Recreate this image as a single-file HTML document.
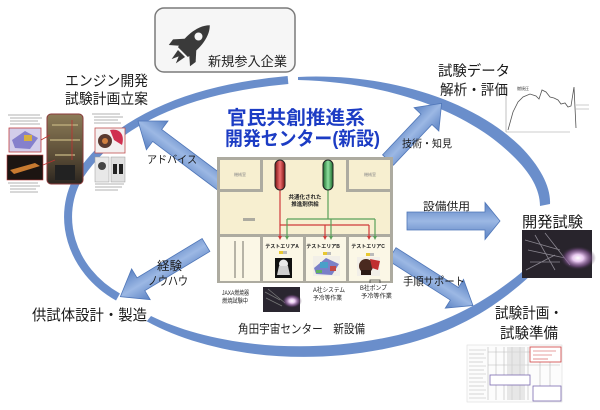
<!DOCTYPE html>
<html><head><meta charset="utf-8">
<style>
html,body{margin:0;padding:0;background:#fff;}
svg{display:block;}
text{font-family:"Liberation Sans","Noto Sans CJK JP",sans-serif;}
</style></head><body>
<svg width="600" height="410" viewBox="0 0 600 410" xmlns="http://www.w3.org/2000/svg">
<defs>
<linearGradient id="ag" x1="0" y1="0" x2="0" y2="1">
 <stop offset="0" stop-color="#5b82c3"/><stop offset="0.5" stop-color="#9cb8e4"/><stop offset="1" stop-color="#5b82c3"/>
</linearGradient>
<linearGradient id="eng" x1="0" y1="0" x2="0" y2="1">
 <stop offset="0" stop-color="#8c7c58"/><stop offset="0.6" stop-color="#5a4c36"/><stop offset="1" stop-color="#2c2620"/>
</linearGradient>
<radialGradient id="glow" cx="0.5" cy="0.5" r="0.5">
 <stop offset="0" stop-color="#ffffff"/><stop offset="0.3" stop-color="#e8c8f0"/><stop offset="0.7" stop-color="#8a5a9a" stop-opacity="0.6"/><stop offset="1" stop-color="#2a2230" stop-opacity="0"/>
</radialGradient>
<linearGradient id="rb" x1="0" y1="0" x2="1" y2="0">
 <stop offset="0" stop-color="#7a1010"/><stop offset="0.5" stop-color="#f07070"/><stop offset="1" stop-color="#7a1010"/>
</linearGradient>
<linearGradient id="gb" x1="0" y1="0" x2="1" y2="0">
 <stop offset="0" stop-color="#1a6a2a"/><stop offset="0.5" stop-color="#90e0a0"/><stop offset="1" stop-color="#1a6a2a"/>
</linearGradient>
</defs>

<!-- Graph (behind labels) -->
<rect x="500" y="80" width="90" height="58" fill="#fff"/>
<line x1="506" y1="86" x2="506" y2="132" stroke="#999" stroke-width="0.6"/>
<line x1="506" y1="132" x2="570" y2="132" stroke="#999" stroke-width="0.6"/>
<polyline points="508,130 513,112 518,102 523,97 530,94 536,96 539,99 542,90 546,92 550,97 554,98 558,100 561,104 565,103 568,107 571,106 574,87 576,128" fill="none" stroke="#555" stroke-width="0.8"/>
<text x="517" y="90" font-size="4" fill="#333">燃焼圧</text>
<g stroke="#aaa" stroke-width="0.6"><line x1="576" y1="105" x2="589" y2="105"/><line x1="576" y1="109" x2="589" y2="109"/></g>

<!-- Rocket box -->
<rect x="155" y="8" width="140" height="64" rx="9" fill="#f6f6f6" stroke="#7a7a7a" stroke-width="1.5"/>
<g transform="translate(190,45) rotate(45)" fill="#3a3a3a">
 <path d="M0,-28 C10,-18 9,0 7,10 L-7,10 C-9,0 -10,-18 0,-28 Z"/>
 <circle cx="0" cy="-12" r="4" fill="#f6f6f6"/>
 <path d="M-7,-2 L-16,8 L-15,15 L-7,8 Z"/>
 <path d="M7,-2 L16,8 L15,15 L7,8 Z"/>
 <path d="M-5,12 L-3,23 L0,16 L3,23 L5,12 Z"/>
</g>
<text x="208" y="66" font-size="13" textLength="79" lengthAdjust="spacingAndGlyphs" fill="#222">新規参入企業</text>

<!-- Ring arcs -->
<path d="M288,80 C200,88 120,115 80,175 C55,215 70,270 118,297" fill="none" stroke="#6a8ecb" stroke-width="8"/>
<path d="M298,77 C380,73 468,96 520,146 C541,167 551,188 550,204 L540,206 C540,190 531,173 512,155 C463,107 380,82 298,80 Z" fill="#6a8ecb"/>
<path d="M141,318 C200,353 300,370 402,345 C455,332 495,308 530,276 L522,272 C488,300 450,322 398,335 C300,358 205,343 151,316 L147,321 Z" fill="#6a8ecb"/>

<!-- Block arrows -->
<g fill="url(#ag)" stroke="#4f76b8" stroke-width="0.8">
 <g transform="translate(222,184) rotate(216.87)"><path d="M0,-7.5 L81,-7.5 L81,-18 L105,0 L81,18 L81,7.5 L0,7.5 Z"/></g>
 <g transform="translate(388,160) rotate(-46.6)"><path d="M0,-7.5 L56,-7.5 L56,-17 L78,0 L56,17 L56,7.5 L0,7.5 Z"/></g>
 <g transform="translate(206,245) rotate(148.9)"><path d="M0,-7.5 L76,-7.5 L76,-18 L100,0 L76,18 L76,7.5 L0,7.5 Z"/></g>
 <g transform="translate(392,254) rotate(32.5)"><path d="M0,-7.5 L74,-7.5 L74,-17 L96,0 L74,17 L74,7.5 L0,7.5 Z"/></g>
 <g transform="translate(407,221)"><path d="M0,-9 L78,-9 L78,-18.5 L93,0 L78,18.5 L78,9 L0,9 Z"/></g>
</g>

<!-- Floor plan -->
<rect x="217" y="157" width="176" height="126" fill="#adaba0"/>
<g fill="#f7efd0">
 <rect x="220" y="160" width="40" height="29"/>
 <rect x="263" y="160" width="83" height="74"/>
 <rect x="349" y="160" width="41" height="29"/>
 <rect x="220" y="192" width="170" height="42"/>
</g>
<rect x="243" y="218" width="12" height="3" fill="#adaba0"/>
<g fill="#fbf7e6">
 <rect x="220" y="237" width="40" height="44"/>
 <rect x="263" y="237" width="40" height="44"/>
 <rect x="306" y="237" width="40" height="44"/>
 <rect x="349" y="237" width="41" height="44"/>
</g>
<line x1="235" y1="241" x2="235" y2="278" stroke="#a09e92" stroke-width="1.5"/>
<line x1="243" y1="241" x2="243" y2="278" stroke="#a09e92" stroke-width="1.5"/>
<text x="240" y="176" font-size="4" fill="#888" text-anchor="middle">機械室</text>
<text x="370" y="176" font-size="4" fill="#888" text-anchor="middle">機械室</text>
<g fill="none" stroke="#d03a3a" stroke-width="1.2">
 <path d="M280,190 L280,237 M280,225 L369,225 M325,225 L325,237 M369,225 L369,237"/>
</g>
<g fill="none" stroke="#5aa05a" stroke-width="1.2">
 <path d="M328,190 L328,219 M287,219 L375,219 M287,219 L287,237 M331,219 L331,237 M375,219 L375,237"/>
</g>
<g fill="#d03a3a"><path d="M278,236 L282,236 L280,240Z"/><path d="M323,236 L327,236 L325,240Z"/><path d="M367,236 L371,236 L369,240Z"/></g>
<g fill="#5aa05a"><path d="M285,236 L289,236 L287,240Z"/><path d="M329,236 L333,236 L331,240Z"/><path d="M373,236 L377,236 L375,240Z"/></g>
<rect x="275" y="160" width="10" height="30" rx="5" fill="url(#rb)" stroke="#222" stroke-width="1"/>
<rect x="323" y="160" width="10" height="30" rx="5" fill="url(#gb)" stroke="#222" stroke-width="1"/>
<text x="305" y="199" font-size="5.5" fill="#222" text-anchor="middle" font-weight="bold">共通化された</text>
<text x="305" y="206" font-size="5.5" fill="#222" text-anchor="middle" font-weight="bold">推進剤供給</text>
<g font-size="5" fill="#222" font-weight="bold" text-anchor="middle">
 <text x="282" y="248">テストエリアA</text>
 <text x="323" y="248">テストエリアB</text>
 <text x="368" y="248">テストエリアC</text>
</g>
<g>
 <rect x="279" y="251" width="4" height="3" fill="#e8c830"/><rect x="283" y="251" width="4" height="3" fill="#bbb"/>
 <rect x="323" y="252" width="4" height="3" fill="#e8c830"/><rect x="327" y="252" width="4" height="3" fill="#bbb"/>
 <rect x="366" y="253" width="4" height="3" fill="#e8c830"/><rect x="370" y="253" width="4" height="3" fill="#bbb"/>
</g>
<rect x="275" y="258" width="17" height="20" fill="#111"/>
<circle cx="283.5" cy="264" r="4.5" fill="#e8e8e8"/>
<path d="M279,266 L288,266 L290,275 L277,275 Z" fill="#d0d0d0"/>
<g>
 <rect x="313" y="256" width="27" height="20" fill="#f2efe8"/>
 <path d="M314,268 L326,258 L339,264 L332,275 L316,274 Z" fill="#7a80c8"/>
 <rect x="320" y="262" width="8" height="6" fill="#4aa0c8"/>
 <rect x="330" y="266" width="6" height="5" fill="#c04848"/>
 <rect x="316" y="270" width="6" height="3" fill="#60b060"/>
</g>
<g>
 <rect x="357" y="257" width="23" height="19" fill="#f2efe8"/>
 <circle cx="366" cy="266" r="7" fill="#4a2a20"/>
 <path d="M370,259 L380,261 L378,270 L372,268 Z" fill="#c03030"/>
 <rect x="361" y="270" width="10" height="5" fill="#2a1a14"/>
</g>
<path d="M370,283 L370,280 L380,280 L380,283" fill="none" stroke="#444" stroke-width="0.8"/>
<rect x="263" y="287" width="37" height="25" fill="#2a2630"/>
<path d="M265,292 L280,300 M268,289 L285,303 M266,298 L282,306" stroke="#777" stroke-width="0.8"/>
<ellipse cx="292" cy="301" rx="10" ry="7" fill="url(#glow)"/>
<g font-size="6" fill="#222">
 <text x="222" y="295" textLength="27" lengthAdjust="spacingAndGlyphs">JAXA燃焼器</text>
 <text x="222" y="303" textLength="26" lengthAdjust="spacingAndGlyphs">燃焼試験中</text>
 <text x="313" y="292" textLength="32" lengthAdjust="spacingAndGlyphs">A社システム</text>
 <text x="313" y="300" textLength="29" lengthAdjust="spacingAndGlyphs">予冷等作業</text>
 <text x="360" y="290" textLength="27" lengthAdjust="spacingAndGlyphs">B社ポンプ</text>
 <text x="361" y="298" textLength="31" lengthAdjust="spacingAndGlyphs">予冷等作業</text>
</g>
<text x="238" y="333" font-size="12" textLength="127" lengthAdjust="spacingAndGlyphs" fill="#222">角田宇宙センター　新設備</text>

<!-- Title -->
<text x="227" y="124" font-size="19" font-weight="bold" fill="#1c3cc4" textLength="138" lengthAdjust="spacingAndGlyphs">官民共創推進系</text>
<text x="225" y="145" font-size="19" font-weight="bold" fill="#1c3cc4" textLength="155" lengthAdjust="spacingAndGlyphs">開発センター(新設)</text>

<!-- Labels -->
<g fill="#1a1a1a">
 <text x="65" y="86" font-size="14.5" textLength="83" lengthAdjust="spacingAndGlyphs">エンジン開発</text>
 <text x="65" y="104" font-size="14.5" textLength="83" lengthAdjust="spacingAndGlyphs">試験計画立案</text>
 <text x="438" y="76" font-size="14.5" textLength="72" lengthAdjust="spacingAndGlyphs">試験データ</text>
 <text x="440" y="95" font-size="14.5" textLength="68" lengthAdjust="spacingAndGlyphs">解析・評価</text>
 <text x="522" y="227" font-size="15" textLength="61" lengthAdjust="spacingAndGlyphs">開発試験</text>
 <text x="495" y="318" font-size="15" textLength="68" lengthAdjust="spacingAndGlyphs">試験計画・</text>
 <text x="500" y="338" font-size="15" textLength="58" lengthAdjust="spacingAndGlyphs">試験準備</text>
 <text x="32" y="320" font-size="15" textLength="115" lengthAdjust="spacingAndGlyphs">供試体設計・製造</text>
 <text x="147" y="163" font-size="10.5" textLength="50" lengthAdjust="spacingAndGlyphs">アドバイス</text>
 <text x="402" y="147" font-size="10.5" textLength="50" lengthAdjust="spacingAndGlyphs">技術・知見</text>
 <text x="423" y="210" font-size="11" textLength="47" lengthAdjust="spacingAndGlyphs">設備供用</text>
 <text x="157" y="270" font-size="12" textLength="25" lengthAdjust="spacingAndGlyphs">経験</text>
 <text x="148" y="285" font-size="12" textLength="40" lengthAdjust="spacingAndGlyphs">ノウハウ</text>
 <text x="403" y="285" font-size="11" textLength="62" lengthAdjust="spacingAndGlyphs">手順サポート</text>
</g>

<!-- Left composite images -->
<g stroke="#999" stroke-width="0.8">
 <line x1="8" y1="115" x2="40" y2="115"/><line x1="10" y1="118" x2="42" y2="118"/>
 <line x1="10" y1="121" x2="38" y2="121"/><line x1="10" y1="124" x2="40" y2="124"/>
 <line x1="8" y1="183" x2="38" y2="183"/><line x1="10" y1="186" x2="40" y2="186"/>
 <line x1="10" y1="189" x2="36" y2="189"/><line x1="10" y1="192" x2="38" y2="192"/>
 <line x1="92" y1="114" x2="120" y2="114"/><line x1="94" y1="117" x2="123" y2="117"/>
 <line x1="94" y1="120" x2="118" y2="120"/><line x1="94" y1="123" x2="121" y2="123"/>
 <line x1="95" y1="184" x2="124" y2="184"/><line x1="95" y1="187" x2="122" y2="187"/>
 <line x1="95" y1="190" x2="118" y2="190"/>
</g>
<rect x="9" y="128" width="32" height="24" fill="#d2cdea" stroke="#c04040" stroke-width="0.8"/>
<path d="M12,140 L25,131 L38,138 L30,149 L15,148Z" fill="#8580cc"/>
<rect x="24" y="135" width="8" height="6" fill="#d8b040"/>
<rect x="7" y="155" width="36" height="25" fill="#1c1512" stroke="#c04040" stroke-width="0.6"/>
<path d="M10,170 L35,163 L40,166 L14,174Z" fill="#c87a30"/>
<rect x="47" y="114" width="36" height="70" rx="4" fill="url(#eng)" stroke="#8b3a3a" stroke-width="1"/>
<path d="M52,125 L78,125 M50,140 L80,140 M55,155 L75,155" stroke="#b8a878" stroke-width="1.5"/>
<rect x="55" y="165" width="20" height="15" fill="#222"/>
<line x1="72" y1="120" x2="72" y2="160" stroke="#c03030" stroke-width="0.8"/>
<line x1="41" y1="140" x2="50" y2="135" stroke="#c03030" stroke-width="0.8"/>
<line x1="43" y1="165" x2="55" y2="160" stroke="#c03030" stroke-width="0.8"/>
<rect x="95" y="128" width="30" height="25" fill="#f4f0f0" stroke="#c05050" stroke-width="0.8"/>
<path d="M110,130 C120,128 125,135 122,145 L114,140 Z" fill="#d03050"/>
<circle cx="105" cy="141" r="7" fill="#5a3a30"/>
<circle cx="105" cy="141" r="3" fill="#d08040"/>
<rect x="95" y="157" width="14" height="25" fill="#e8e8e8" stroke="#999" stroke-width="0.5"/>
<circle cx="102" cy="166" r="4" fill="#444"/>
<rect x="111" y="157" width="14" height="25" fill="#e0e0e0" stroke="#999" stroke-width="0.5"/>
<rect x="113" y="164" width="4" height="10" fill="#222"/><rect x="119" y="164" width="4" height="10" fill="#222"/>

<!-- Dev test photo -->
<rect x="522" y="230" width="70" height="48" fill="#28242c"/>
<g stroke="#8a8690" stroke-width="0.8" fill="none">
 <path d="M525,240 L560,250 M528,250 L565,258 M530,262 L560,262 M535,235 L555,270 M545,233 L570,265 M526,270 L555,255"/>
</g>
<ellipse cx="578" cy="258" rx="18" ry="12" fill="url(#glow)"/>

<!-- Document -->
<rect x="467" y="345" width="95" height="57" fill="#fcfcfc" stroke="#ddd" stroke-width="0.6"/>
<g stroke="#b8b8b8" stroke-width="0.6">
 <line x1="469" y1="350" x2="486" y2="350"/><line x1="469" y1="354" x2="484" y2="354"/>
 <line x1="469" y1="358" x2="486" y2="358"/><line x1="469" y1="362" x2="483" y2="362"/>
 <line x1="469" y1="366" x2="486" y2="366"/><line x1="469" y1="370" x2="484" y2="370"/>
 <line x1="469" y1="374" x2="486" y2="374"/><line x1="469" y1="378" x2="483" y2="378"/>
 <line x1="469" y1="382" x2="486" y2="382"/><line x1="469" y1="386" x2="484" y2="386"/>
 <line x1="469" y1="390" x2="486" y2="390"/><line x1="469" y1="394" x2="484" y2="394"/>
 <line x1="469" y1="398" x2="486" y2="398"/>
 <line x1="488" y1="347" x2="488" y2="400"/><line x1="496" y1="347" x2="496" y2="400"/>
 <line x1="504" y1="347" x2="504" y2="400"/><line x1="512" y1="347" x2="512" y2="400"/>
 <line x1="520" y1="347" x2="520" y2="400"/><line x1="528" y1="347" x2="528" y2="400"/>
 <line x1="540" y1="362" x2="540" y2="400"/><line x1="550" y1="362" x2="550" y2="400"/>
 <line x1="488" y1="352" x2="560" y2="352"/><line x1="488" y1="365" x2="560" y2="365"/>
</g>
<rect x="507" y="347" width="18" height="53" fill="#d8d8d8" opacity="0.6"/>
<rect x="530" y="347" width="31" height="15" fill="#fff" stroke="#d04040" stroke-width="0.8"/>
<g stroke="#d04040" stroke-width="0.6"><line x1="533" y1="351" x2="556" y2="351"/><line x1="533" y1="355" x2="552" y2="355"/><line x1="533" y1="359" x2="548" y2="359"/></g>
<rect x="490" y="375" width="40" height="10" fill="#fff" stroke="#7a6ab0" stroke-width="0.8"/>
<rect x="533" y="386" width="28" height="15" fill="#fff" stroke="#7a6ab0" stroke-width="0.8"/>
</svg>
</body></html>
